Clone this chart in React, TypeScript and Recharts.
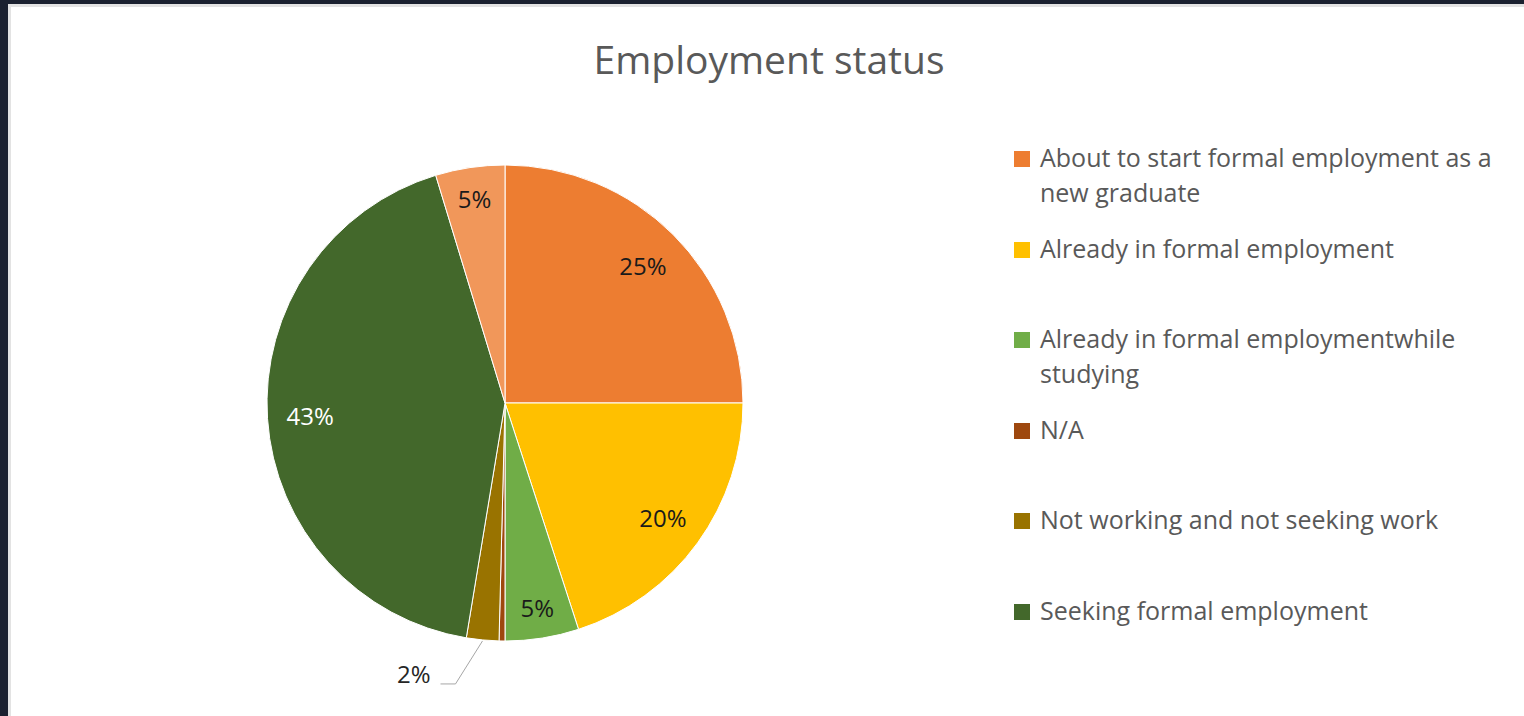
import { PieChart, Pie, Cell, Legend } from "recharts";

const CATEGORIES = [
  "About to start formal employment as a new graduate",
  "Already in formal employment",
  "Already in formal employmentwhile studying",
  "N/A",
  "Not working and not seeking work",
  "Seeking formal employment",
  "Other",
];
const VALUES = [25, 20, 5, 0.4, 2.2, 42.7, 4.7];
const COLORS = ["#ED7D31", "#FFC000", "#70AD47", "#9E480E", "#997300", "#43682B", "#F1975A"];
const LABEL_COLORS = ["#1a1a1a", "#1a1a1a", "#1a1a1a", "#1a1a1a", "#262626", "#ffffff", "#1a1a1a"];
const LEGEND_COUNT = 6;

const data = CATEGORIES.map((name, i) => ({ name, value: VALUES[i] }));

const FONT = "'Open Sans', 'Noto Sans', sans-serif";
const RAD = Math.PI / 180;

function renderLabel(props: any) {
  const { cx, cy, midAngle, outerRadius, percent, index } = props;
  if (percent < 0.01) return null;
  const text = `${Math.round(percent * 100)}%`;
  if (percent < 0.03) {
    const sx = cx + (outerRadius + 1) * Math.cos(-midAngle * RAD);
    const sy = cy + (outerRadius + 1) * Math.sin(-midAngle * RAD);
    const ex = sx - 27;
    const ey = sy + 43;
    return (
      <g key={`l-${index}`}>
        <polyline
          points={`${sx},${sy} ${ex},${ey} ${ex - 15},${ey}`}
          fill="none"
          stroke="#a6a6a6"
          strokeWidth={1}
        />
        <text
          x={ex - 25}
          y={ey - 10}
          textAnchor="end"
          dominantBaseline="central"
          fill="#262626"
          fontSize={24}
          fontFamily={FONT}
        >
          {text}
        </text>
      </g>
    );
  }
  // small slices sit a bit further out, like Excel's best fit
  const r = outerRadius * (percent < 0.1 ? 0.87 : 0.82);
  const x = cx + r * Math.cos(-midAngle * RAD);
  const y = cy + r * Math.sin(-midAngle * RAD);
  return (
    <text
      key={`l-${index}`}
      x={x}
      y={y}
      textAnchor="middle"
      dominantBaseline="central"
      fill={LABEL_COLORS[index]}
      fontSize={24}
      fontFamily={FONT}
    >
      {text}
    </text>
  );
}

function renderLegend() {
  return (
    <div style={{ position: "relative", width: 500, height: 500, fontFamily: FONT }}>
      {CATEGORIES.slice(0, LEGEND_COUNT).map((name, i) => (
        <div key={name} style={{ position: "absolute", left: 0, top: i * 90.6, display: "flex" }}>
          <div style={{ width: 16, height: 16, background: COLORS[i] }} />
          <div
            style={{
              marginLeft: 10,
              marginTop: -11,
              width: 470,
              fontSize: 25,
              lineHeight: "35px",
              color: "#595959",
            }}
          >
            {name}
          </div>
        </div>
      ))}
    </div>
  );
}

export default function App() {
  return (
    <div
      style={{
        position: "fixed",
        left: 0,
        top: 0,
        width: 1524,
        height: 716,
        background: "#1b2130",
        overflow: "hidden",
      }}
    >
      <div
        style={{
          position: "absolute",
          left: 8,
          top: 4,
          right: 0,
          bottom: 0,
          background: "#ffffff",
          borderLeft: "3px solid #e3e3e3",
          borderTop: "3px solid #e3e3e3",
        }}
      />
      <div
        style={{
          position: "absolute",
          left: 0,
          width: 1538,
          top: 39,
          textAlign: "center",
          fontFamily: FONT,
          fontSize: 39,
          lineHeight: 1,
          color: "#595959",
        }}
      >
        Employment status
      </div>
      <div style={{ position: "absolute", left: 0, top: 0 }}>
        <PieChart width={1524} height={716} margin={{ top: 0, right: 0, bottom: 0, left: 0 }}>
          <Pie
            data={data}
            dataKey="value"
            nameKey="name"
            cx={505}
            cy={403}
            outerRadius={238}
            startAngle={90}
            endAngle={-270}
            stroke="#ffffff"
            strokeWidth={1}
            label={renderLabel}
            labelLine={false}
            isAnimationActive={false}
          >
            {data.map((_, i) => (
              <Cell key={i} fill={COLORS[i]} />
            ))}
          </Pie>
          <Legend
            content={renderLegend}
            wrapperStyle={{ position: "absolute", left: 1014, top: 151, width: 500 }}
          />
        </PieChart>
      </div>
    </div>
  );
}
